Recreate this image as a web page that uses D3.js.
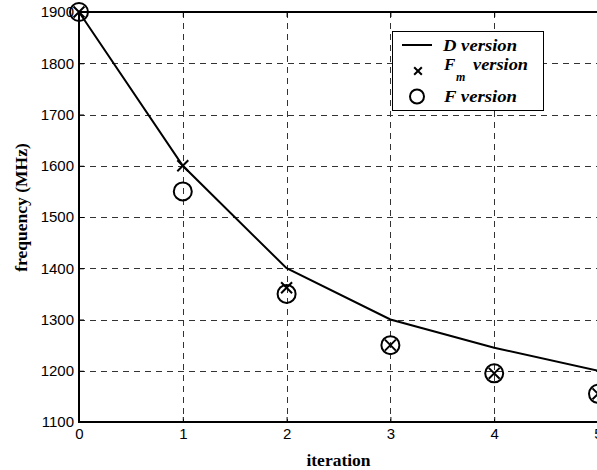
<!DOCTYPE html>
<html>
<head>
<meta charset="utf-8">
<script src="https://cdn.jsdelivr.net/npm/d3@7"></script>
<style>
  html, body { margin: 0; padding: 0; background: #fff; }
  svg { display: block; }
</style>
</head>
<body>
<svg id="chart" width="597" height="470"></svg>
<script>
// Frequency per iteration for the three variants
const iterations = [0, 1, 2, 3, 4, 5];
const dVersion  = [1900, 1600, 1400, 1300, 1245, 1200];
const fmVersion = [1900, 1600, 1362, 1250, 1195, 1155];
const fVersion  = [1900, 1550, 1350, 1250, 1195, 1155];
const xTicks = [0, 1, 2, 3, 4, 5];
const yTicks = [1100, 1200, 1300, 1400, 1500, 1600, 1700, 1800, 1900];

const svg = d3.select("#chart");
const plotLeft = 79, plotTop = 12, plotRight = 598, plotBottom = 422;

const x = d3.scaleLinear().domain([0, 5]).range([plotLeft, plotRight]);
const y = d3.scaleLinear().domain([1100, 1900]).range([plotBottom, plotTop]);

const sans = "'Liberation Sans', Arial, sans-serif";
const serif = "'Liberation Serif', 'Times New Roman', serif";

// dashed grid
const grid = svg.append("g").attr("stroke", "#333").attr("stroke-width", 1)
  .attr("stroke-dasharray", "6,5").attr("shape-rendering", "crispEdges");
grid.selectAll("line.v").data(xTicks.slice(1)).join("line")
  .attr("x1", d => Math.round(x(d)) + 0.5).attr("x2", d => Math.round(x(d)) + 0.5)
  .attr("y1", plotTop).attr("y2", plotBottom);
grid.selectAll("line.h").data(yTicks.slice(1, -1)).join("line")
  .attr("x1", plotLeft).attr("x2", plotRight)
  .attr("y1", d => Math.round(y(d)) + 0.5).attr("y2", d => Math.round(y(d)) + 0.5);

// axes (ticks point inward)
const xAxis = svg.append("g").attr("transform", `translate(0,${plotBottom})`)
  .call(d3.axisBottom(x).tickValues(xTicks).tickFormat(d3.format("d")).tickSize(-5).tickPadding(7));
const yAxis = svg.append("g").attr("transform", `translate(${plotLeft},0)`)
  .call(d3.axisLeft(y).tickValues(yTicks).tickFormat(d3.format("d")).tickSize(-5).tickPadding(5));
const xTop = svg.append("g").attr("transform", `translate(0,${plotTop})`)
  .call(d3.axisTop(x).tickValues(xTicks).tickFormat("").tickSize(-5));
[xAxis, yAxis, xTop].forEach(a => {
  a.select(".domain").remove();
  a.selectAll(".tick line").attr("stroke", "#000").attr("stroke-width", 1);
  a.selectAll("text").attr("font-family", sans).attr("font-size", 15).attr("fill", "#000");
});
xAxis.selectAll("text").attr("y", 6);

// frame
svg.append("path")
  .attr("d", `M${plotLeft},${plotTop}H${plotRight + 5}M${plotLeft},${plotTop}V${plotBottom}H${plotRight + 5}`)
  .attr("fill", "none").attr("stroke", "#000").attr("stroke-width", 2);

// D version line
svg.append("path")
  .datum(iterations.map((d, i) => [d, dVersion[i]]))
  .attr("d", d3.line().x(d => x(d[0])).y(d => y(d[1])))
  .attr("fill", "none").attr("stroke", "#000").attr("stroke-width", 2);

// Fm version crosses
const cross = d3.symbol().type(d3.symbolX).size(80);
svg.append("g").selectAll("path").data(iterations).join("path")
  .attr("transform", (d, i) => `translate(${x(d)},${y(fmVersion[i])})`)
  .attr("d", cross).attr("fill", "none").attr("stroke", "#000").attr("stroke-width", 2);

// F version circles
svg.append("g").selectAll("circle").data(iterations).join("circle")
  .attr("cx", d => x(d)).attr("cy", (d, i) => y(fVersion[i])).attr("r", 9)
  .attr("fill", "none").attr("stroke", "#000").attr("stroke-width", 2);

// axis titles
svg.append("text").attr("x", 338.5).attr("y", 466).attr("text-anchor", "middle")
  .attr("font-family", serif).attr("font-weight", "bold").attr("font-size", 17.5)
  .text("iteration");
svg.append("text").attr("transform", "translate(27,207.5) rotate(-90)").attr("text-anchor", "middle")
  .attr("font-family", serif).attr("font-weight", "bold").attr("font-size", 17.5)
  .text("frequency (MHz)");

// legend
const lg = svg.append("g");
lg.append("rect").attr("x", 392.5).attr("y", 31.5).attr("width", 151).attr("height", 79)
  .attr("fill", "#fff").attr("stroke", "#000").attr("stroke-width", 1);
lg.append("line").attr("x1", 402).attr("x2", 432).attr("y1", 45).attr("y2", 45)
  .attr("stroke", "#000").attr("stroke-width", 2);
lg.append("path").attr("transform", "translate(418,71)").attr("d", d3.symbol().type(d3.symbolX).size(40))
  .attr("fill", "none").attr("stroke", "#000").attr("stroke-width", 2);
lg.append("circle").attr("cx", 417).attr("cy", 96.5).attr("r", 7)
  .attr("fill", "none").attr("stroke", "#000").attr("stroke-width", 2);
const lt = (xx, yy) => lg.append("text").attr("x", xx).attr("y", yy)
  .attr("font-family", serif).attr("font-weight", "bold").attr("font-style", "italic").attr("font-size", 17);
lt(443, 51).attr("textLength", 74).attr("lengthAdjust", "spacingAndGlyphs").text("D version");
lt(444, 70).text("F");
lt(456, 81).attr("font-size", 12).text("m");
lt(473, 70).attr("textLength", 55).attr("lengthAdjust", "spacingAndGlyphs").text("version");
lt(444, 102).attr("textLength", 73).attr("lengthAdjust", "spacingAndGlyphs").text("F version");
</script>
</body>
</html>
